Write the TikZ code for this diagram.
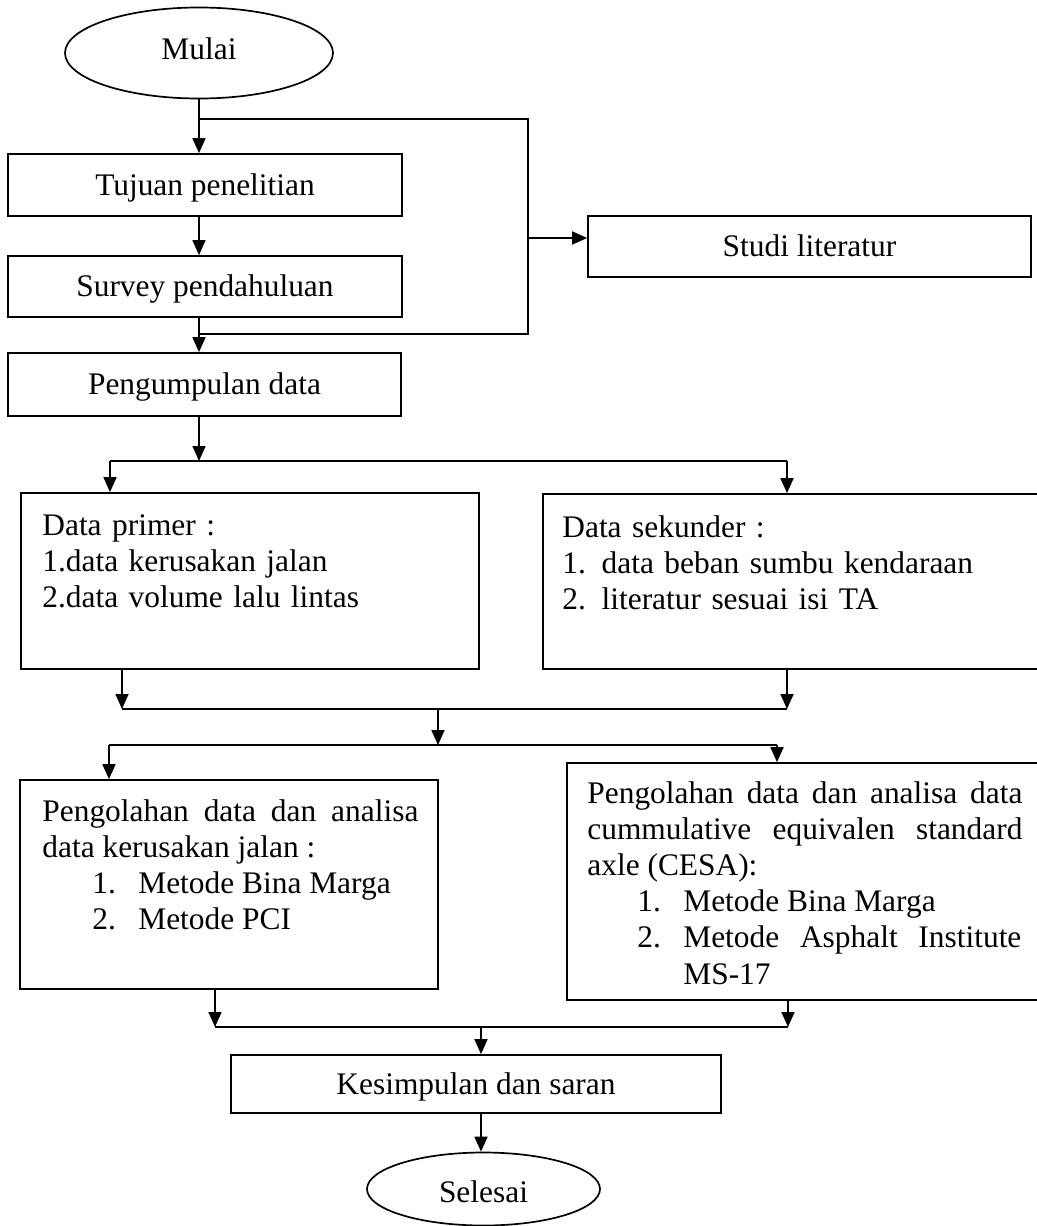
\documentclass[tikz,border=0pt]{standalone}
\usepackage{fontspec}
\setmainfont{Liberation Serif}
\usetikzlibrary{arrows.meta,shapes.geometric}
\tikzset{
  fnt/.style={font=\fontsize{15.7pt}{18.1pt}\selectfont},
  box/.style={draw, line width=0.85pt, rectangle, inner sep=0pt, fnt, text height=12pt, text depth=2pt},
  oval/.style={draw, line width=0.85pt, ellipse, inner sep=0pt, fnt},
  emptybox/.style={draw, line width=0.85pt, rectangle, inner sep=0pt},
  txt/.style={inner sep=0pt, fnt, anchor=base west},
  ln/.style={line width=0.85pt},
  arr/.style={line width=0.85pt, -{Triangle[length=7.5pt, width=6.5pt]}},
}
\begin{document}
\begin{tikzpicture}[x=0.5pt, y=-0.5pt]
\useasboundingbox (0,0) rectangle (1037,1226);
\clip (0,0) rectangle (1037,1226);

% nodes
\node[oval, minimum width=134pt, minimum height=45.5pt, text height=11pt, text depth=4.5pt] (mulai) at (199,53) {Mulai};
\node[box, minimum width=197pt, minimum height=31pt] (tuj) at (205,185) {Tujuan penelitian};
\node[box, minimum width=197pt, minimum height=30.5pt] (surv) at (205,286.5) {Survey pendahuluan};
\node[box, minimum width=196.5pt, minimum height=31.5pt] (peng) at (204.5,384.5) {Pengumpulan data};
\node[box, minimum width=221.5pt, minimum height=30.5pt] (studi) at (809.5,246.5) {Studi literatur};

\node[emptybox, minimum width=229pt, minimum height=88pt] (prim) at (250,581) {};
\node[txt, text width=215pt, align=left] (primT) at (42,535)
  {Data primer :\\1.data kerusakan jalan\\2.data volume lalu lintas};

\node[emptybox, minimum width=248.5pt, minimum height=87.5pt] (sek) at (791.5,581.5) {};
\node[txt, text width=230pt, align=left] (sekT) at (562,537)
  {Data sekunder :\\1. data beban sumbu kendaraan\\2. literatur sesuai isi TA};

\node[emptybox, minimum width=209pt, minimum height=104.5pt] (olahA) at (229,884.5) {};
\node[txt, text width=188pt, align=justify] (olahAT) at (42,821)
  {\tolerance=9999\hyphenpenalty=10000
   Pengolahan data dan analisa\linebreak data kerusakan jalan :\par
   \hspace*{25pt}\makebox[23pt][l]{1.}Metode Bina Marga\par
   \hspace*{25pt}\makebox[23pt][l]{2.}Metode PCI};

\node[emptybox, minimum width=236.5pt, minimum height=118.5pt] (olahB) at (803.5,881.5) {};
\node[txt, text width=217.5pt, align=justify] (olahBT) at (587,803)
  {\tolerance=9999\hyphenpenalty=10000
   Pengolahan data dan analisa data\linebreak cummulative equivalen standard\linebreak axle (CESA):\par
   \hspace*{25pt}\makebox[23pt][l]{1.}Metode Bina Marga\par
   \hspace*{25pt}\makebox[23pt][l]{2.}\parbox[t]{169pt}{\tolerance=9999\hyphenpenalty=10000 Metode Asphalt Institute\linebreak MS-17}};

\node[box, minimum width=245pt, minimum height=29pt] (kes) at (476,1084) {Kesimpulan dan saran};
\node[oval, minimum width=116.5pt, minimum height=36.5pt, text height=14pt, text depth=1pt] (sel) at (483.5,1189) {Selesai};

% junction coordinates
\coordinate (bTop) at (199,119);
\coordinate (bTR) at (528,119);
\coordinate (bBR) at (528,334);
\coordinate (bBot) at (199,334);
\coordinate (bS) at (528,238);
\coordinate (s1) at (199,461);
\coordinate (sL) at (110,461);
\coordinate (sR) at (787,461);
\coordinate (mL) at (122,709);
\coordinate (mR) at (787,709);
\coordinate (mC) at (438,709);
\coordinate (tC) at (438,745);
\coordinate (tL) at (109,745);
\coordinate (tR) at (777,745);
\coordinate (nL) at (215,1027);
\coordinate (nR) at (788,1027);
\coordinate (nC) at (481,1027);

% connectors
\draw[arr] (mulai.south) -- (mulai.south |- tuj.north);
\draw[arr] (tuj.south -| mulai.south) -- (surv.north -| mulai.south);
\draw[arr] (surv.south -| mulai.south) -- (peng.north -| mulai.south);
\draw[ln] (bTop) -- (bTR) -- (bBR) -- (bBot);
\draw[arr] (bS) -- (bS -| studi.west);

\draw[arr] (peng.south -| s1) -- (s1);
\draw[ln] (sL) -- (sR);
\draw[arr] (sL) -- (sL |- prim.north);
\draw[arr] (sR) -- (sR |- sek.north);

\draw[arr] (prim.south -| mL) -- (mL);
\draw[arr] (sek.south -| mR) -- (mR);
\draw[ln] (mL) -- (mR);
\draw[arr] (mC) -- (tC);
\draw[ln] (tL) -- (tR);
\draw[arr] (tL) -- (tL |- olahA.north);
\draw[arr] (tR) -- (tR |- olahB.north);

\draw[arr] (olahA.south -| nL) -- (nL);
\draw[arr] (olahB.south -| nR) -- (nR);
\draw[ln] (nL) -- (nR);
\draw[arr] (nC) -- (nC |- kes.north);
\draw[arr] (kes.south -| nC) -- (nC |- sel.north);
\end{tikzpicture}
\end{document}
